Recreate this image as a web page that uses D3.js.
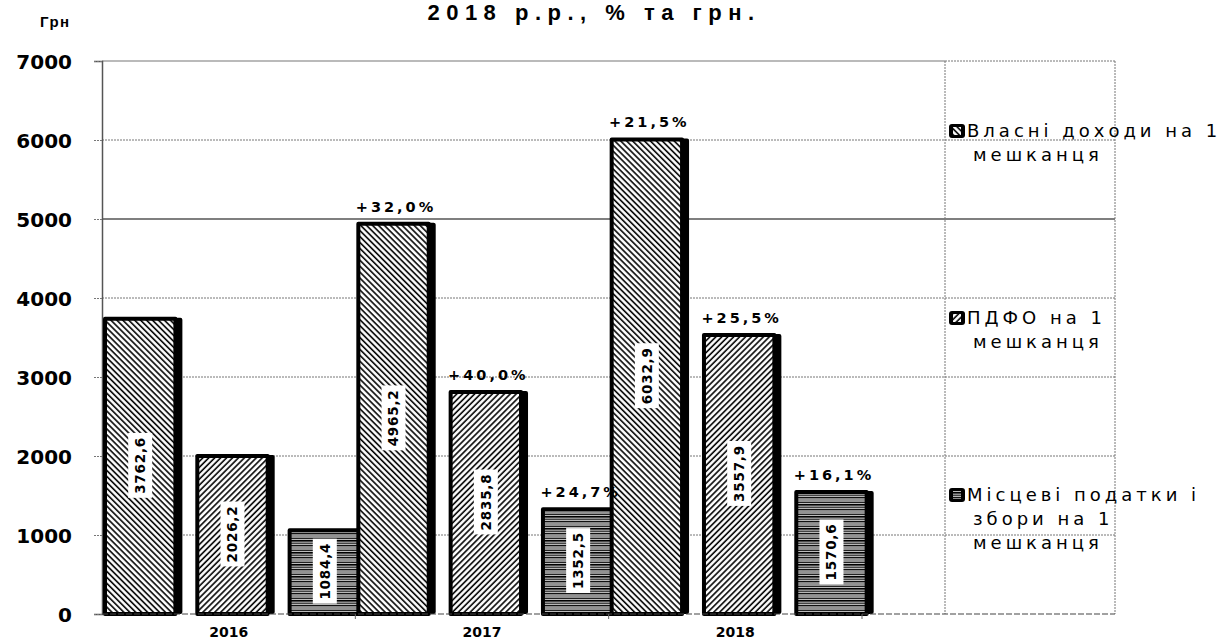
<!DOCTYPE html>
<html>
<head>
<meta charset="utf-8">
<script src="https://cdn.jsdelivr.net/npm/d3@7"></script>
<style>
  html, body { margin: 0; padding: 0; background: #fff; }
  svg { display: block; }
</style>
</head>
<body>
<svg id="chart" width="1228" height="644"></svg>
<script>
// ---- data ----
const years = ["2016", "2017", "2018"];
const seriesNames = ["Власні доходи на 1 мешканця", "ПДФО на 1 мешканця", "Місцеві податки і збори на 1 мешканця"];
const vlasniDokhody = [3762.6, 4965.2, 6032.9];
const pdfo = [2026.2, 2835.8, 3557.9];
const mistseviPodatky = [1084.4, 1352.5, 1570.6];
const growthVlasni = ["", "+32,0%", "+21,5%"];
const growthPdfo = ["", "+40,0%", "+25,5%"];
const growthMistsevi = ["", "+24,7%", "+16,1%"];
const yTicks = [0, 1000, 2000, 3000, 4000, 5000, 6000, 7000];
const legendLines = [
  ["Власні доходи на 1", "мешканця"],
  ["ПДФО на 1", "мешканця"],
  ["Місцеві податки і", "збори на 1", "мешканця"]
];
const titleText = "2018 р.р., % та грн.";
const unitText = "Грн";

const seriesValues = [vlasniDokhody, pdfo, mistseviPodatky];
const seriesGrowth = [growthVlasni, growthPdfo, growthMistsevi];

// ---- layout ----
const svg = d3.select("#chart");
const plotL = 102, plotR = 945, plotT = 61, plotB = 614, outerR = 1115;
const groupR = 862;

const y = d3.scaleLinear().domain([0, 7000]).range([plotB, plotT]);
const x0 = d3.scaleBand().domain(years).range([plotL, groupR]).paddingInner(0).paddingOuter(0);
const x1 = d3.scaleBand().domain(d3.range(3)).range([0, 264]).paddingInner(0.14).paddingOuter(0);

// ---- patterns ----
const defs = svg.append("defs");
function diag(id, angle) {
  const p = defs.append("pattern").attr("id", id).attr("patternUnits", "userSpaceOnUse")
    .attr("width", 4.2).attr("height", 4.2).attr("patternTransform", `rotate(${angle})`);
  p.append("rect").attr("width", 4.2).attr("height", 4.2).attr("fill", "#fff");
  p.append("line").attr("x1", 0).attr("x2", 4.2).attr("y1", 1).attr("y2", 1)
    .attr("stroke", "#000").attr("stroke-width", 1.6);
}
diag("patA", 45);
diag("patB", -45);
{
  const p = defs.append("pattern").attr("id", "patC").attr("patternUnits", "userSpaceOnUse")
    .attr("width", 8).attr("height", 12);
  p.append("rect").attr("width", 8).attr("height", 12).attr("fill", "#fff");
  const rows = [[0.8, "#000", 1.8], [3.2, "#444", 1.6], [5.6, "#111", 1.8], [8.0, "#777", 1.6], [10.4, "#222", 1.8]];
  rows.forEach(r => p.append("line").attr("x1", 0).attr("x2", 8).attr("y1", r[0]).attr("y2", r[0])
    .attr("stroke", r[1]).attr("stroke-width", r[2]));
}
const fills = ["url(#patA)", "url(#patB)", "url(#patC)"];

// ---- title & unit ----
svg.append("text").attr("x", 594).attr("y", 20).attr("text-anchor", "middle")
  .attr("font-family", "Liberation Sans, Arial, sans-serif").attr("font-weight", "bold")
  .attr("font-size", 22).attr("letter-spacing", 6.5).text(titleText);
svg.append("text").attr("x", 40).attr("y", 27)
  .attr("font-family", "Liberation Sans, Arial, sans-serif").attr("font-weight", "bold")
  .attr("font-size", 15).attr("letter-spacing", 1.5).text(unitText);

// ---- grid ----
const grid = svg.append("g");
yTicks.forEach(t => {
  const yy = y(t);
  if (t === 0) return;
  if (t === 5000) {
    grid.append("line").attr("x1", plotL).attr("x2", outerR).attr("y1", yy).attr("y2", yy)
      .attr("stroke", "#000").attr("stroke-width", 1.2);
  } else if (t === 7000) {
    grid.append("line").attr("x1", plotL).attr("x2", plotR).attr("y1", yy).attr("y2", yy)
      .attr("stroke", "#777").attr("stroke-width", 1.2);
    grid.append("line").attr("x1", plotR).attr("x2", outerR).attr("y1", yy).attr("y2", yy)
      .attr("stroke", "#777").attr("stroke-width", 1).attr("stroke-dasharray", "2,1");
  } else {
    grid.append("line").attr("x1", plotL).attr("x2", outerR).attr("y1", yy).attr("y2", yy)
      .attr("stroke", "#777").attr("stroke-width", 1).attr("stroke-dasharray", "2,1");
  }
});
[plotR, outerR].forEach(xx => grid.append("line").attr("x1", xx).attr("x2", xx)
  .attr("y1", plotT).attr("y2", plotB).attr("stroke", "#777").attr("stroke-width", 1)
  .attr("stroke-dasharray", "2,1"));

// ---- y axis ----
const yAxis = d3.axisLeft(y).tickValues(yTicks).tickSize(8).tickPadding(22).tickFormat(d3.format("d"));
const gy = svg.append("g").attr("transform", `translate(${plotL},0)`).call(yAxis);
gy.select(".domain").attr("stroke", "#555").attr("stroke-width", 1.5);
gy.selectAll(".tick line").attr("stroke", "#777").attr("stroke-dasharray", "2,1");
gy.selectAll(".tick text").attr("font-family", "DejaVu Sans, sans-serif").attr("font-weight", "bold")
  .attr("font-size", 20).attr("fill", "#000").attr("dy", "0.36em");

// ---- bars ----
const barsG = svg.append("g");
const labelsG = svg.append("g");
years.forEach((yr, gi) => {
  seriesValues.forEach((vals, si) => {
    const v = vals[gi];
    const L = x0(yr) + x1(si) + 1;
    const R = L + x1.bandwidth();
    const top = y(v);
    barsG.append("rect").attr("x", R - 9).attr("y", top + 1).attr("width", 9).attr("height", plotB - top - 1)
      .attr("rx", 2).attr("fill", "#000");
    barsG.append("rect").attr("x", L + 2).attr("y", top + 2).attr("width", R - L - 9).attr("height", plotB - top - 2)
      .attr("fill", fills[si]).attr("stroke", "#000").attr("stroke-width", 4).attr("stroke-linejoin", "round");
    const cx = (L + R - 5) / 2, cy = (top + plotB) / 2;
    const g = labelsG.append("g").attr("transform", `translate(${cx},${cy}) rotate(-90)`);
    const txt = g.append("text").attr("text-anchor", "middle").attr("dy", "0.36em")
      .attr("font-family", "DejaVu Sans, sans-serif")
      .attr("font-weight", "bold").attr("font-size", 13.5).attr("letter-spacing", 0.8)
      .text(d3.format(".1f")(v).replace(".", ","));
    const bb = txt.node().getBBox();
    g.insert("rect", "text").attr("x", bb.x - 4).attr("y", -12).attr("width", bb.width + 8).attr("height", 24)
      .attr("fill", "#fff");
    const gr = seriesGrowth[si][gi];
    if (gr) {
      labelsG.append("text").attr("x", (L + R) / 2).attr("y", top - 10).attr("text-anchor", "middle")
        .attr("font-family", "DejaVu Sans, sans-serif").attr("font-weight", "bold")
        .attr("font-size", 14.5).attr("letter-spacing", 3).text(gr);
    }
  });
});

// ---- x axis ----
svg.append("line").attr("x1", plotL).attr("x2", outerR).attr("y1", plotB).attr("y2", plotB)
  .attr("stroke", "#444").attr("stroke-width", 1.2).attr("stroke-dasharray", "6,2");
const xAxis = d3.axisBottom(x0).tickSize(0).tickPadding(13);
const gx = svg.append("g").attr("transform", `translate(0,${plotB})`).call(xAxis);
gx.select(".domain").remove();
gx.selectAll(".tick text").attr("font-family", "DejaVu Sans, sans-serif").attr("font-weight", "bold")
  .attr("font-size", 14).attr("fill", "#000");
years.forEach(yr => {
  const xx = x0(yr) + x0.step();
  svg.append("line").attr("x1", xx).attr("x2", xx).attr("y1", plotB).attr("y2", plotB + 5)
    .attr("stroke", "#666").attr("stroke-width", 1);
});

// ---- legend ----
const legendY = [137, 324, 501];
const legG = svg.append("g");
legendLines.forEach((lines, i) => {
  legG.append("rect").attr("x", 949).attr("y", legendY[i] - 13).attr("width", 16).attr("height", 14)
    .attr("rx", 3).attr("fill", "#000");
  legG.append("rect").attr("x", 953).attr("y", legendY[i] - 10).attr("width", 8).attr("height", 8)
    .attr("fill", fills[i]);
  lines.forEach((ln, j) => {
    legG.append("text").attr("x", j === 0 ? 967 : 973).attr("y", legendY[i] + j * 24)
      .attr("font-family", "DejaVu Sans, sans-serif").attr("font-size", 18)
      .attr("letter-spacing", 4).attr("fill", "#000").text(ln);
  });
});
</script>
</body>
</html>
